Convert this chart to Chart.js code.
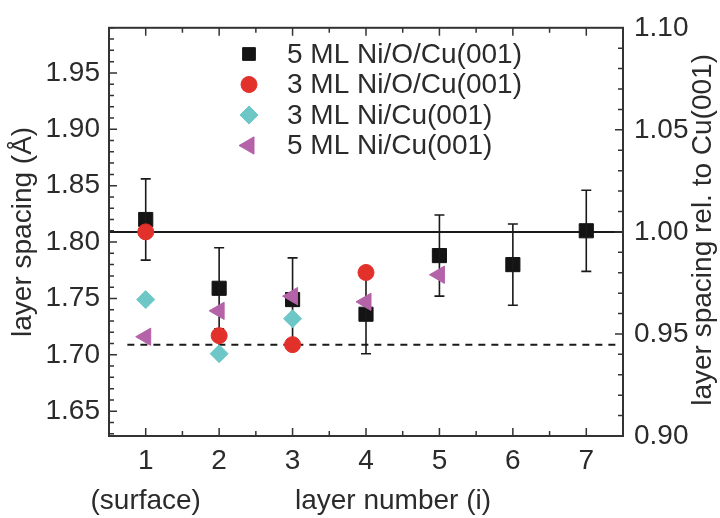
<!DOCTYPE html>
<html>
<head>
<meta charset="utf-8">
<script src="https://cdn.jsdelivr.net/npm/chart.js@4/dist/chart.umd.min.js"></script>
<style>
  body { margin: 0; background: #fff; }
  canvas { display: block; }
</style>
</head>
<body>
<canvas id="chart" width="720" height="518"></canvas>
<script>
// layer number (x)
const layers = [1, 2, 3, 4, 5, 6, 7];

// layer spacing in Angstrom
const ni5OCu = [1.820, 1.759, 1.749, 1.736, 1.788, 1.780, 1.810];
const ni5OCuErr = [0.036, 0.036, 0.037, 0.035, 0.036, 0.036, 0.036];
const ni3OCu = [1.809, 1.717, 1.709, 1.773];
const ni3Cu = [1.749, 1.701, 1.732];
const ni5Cu = [1.716, 1.739, 1.752, 1.747, 1.771];

const seriesNames = ['5 ML Ni/O/Cu(001)', '3 ML Ni/O/Cu(001)', '3 ML Ni/Cu(001)', '5 ML Ni/Cu(001)'];

// reference lines
const cuSpacing = 1.809;
const niSpacing = 1.709;

// tick labels
const xTicks = [1, 2, 3, 4, 5, 6, 7];
const leftTicks = [1.65, 1.70, 1.75, 1.80, 1.85, 1.90, 1.95];
const rightTicks = [0.90, 0.95, 1.00, 1.05, 1.10];

const FONT = '"Liberation Sans", Arial, Helvetica, sans-serif';
const TEXT = '#2b2b2b';
const AXIS = '#333';
const colors = ['#141414', '#e2302b', '#6ec7c7', '#b463a8'];

function pts(ys) {
  return ys.map((y, i) => ({ x: layers[i], y: y }));
}

const decor = {
  id: 'decor',
  afterDatasetDraw(chart, args) {
    if (args.index !== 0) return;
    // error bars on the 5 ML Ni/O/Cu squares
    const ctx = chart.ctx, x = chart.scales.x, y = chart.scales.y;
    ctx.save();
    ctx.strokeStyle = '#1a1a1a';
    ctx.lineWidth = 1.6;
    ni5OCu.forEach((v, i) => {
      const px = x.getPixelForValue(layers[i]);
      const top = y.getPixelForValue(v + ni5OCuErr[i]);
      const bot = y.getPixelForValue(v - ni5OCuErr[i]);
      ctx.beginPath();
      ctx.moveTo(px, top); ctx.lineTo(px, bot);
      ctx.moveTo(px - 5, top); ctx.lineTo(px + 5, top);
      ctx.moveTo(px - 5, bot); ctx.lineTo(px + 5, bot);
      ctx.stroke();
    });
    ctx.restore();
  },
  afterDraw(chart) {
    const ctx = chart.ctx, a = chart.chartArea;
    const x = chart.scales.x, y = chart.scales.y, y2 = chart.scales.y2;
    ctx.save();
    // frame
    ctx.strokeStyle = AXIS;
    ctx.lineWidth = 2;
    ctx.strokeRect(a.left, a.top, a.right - a.left, a.bottom - a.top);

    // inward ticks
    ctx.lineWidth = 1.5;
    ctx.beginPath();
    for (let k = 1; k <= 15; k++) {
      const v = k / 2 + 0.5;
      if (v >= 7.5) break;
      const px = x.getPixelForValue(v);
      const len = Number.isInteger(v) ? 8 : 5;
      ctx.moveTo(px, a.bottom); ctx.lineTo(px, a.bottom - len);
      ctx.moveTo(px, a.top); ctx.lineTo(px, a.top + len);
    }
    for (let k = 163; k <= 199; k++) {
      const py = y.getPixelForValue(k / 100);
      const len = k % 5 === 0 ? 8 : 5;
      ctx.moveTo(a.left, py); ctx.lineTo(a.left + len, py);
    }
    for (let k = 91; k <= 109; k++) {
      const py = y2.getPixelForValue(k / 100);
      const len = k % 5 === 0 ? 8 : 5;
      ctx.moveTo(a.right, py); ctx.lineTo(a.right - len, py);
    }
    ctx.stroke();

    // axis titles
    ctx.fillStyle = TEXT;
    ctx.font = '28px ' + FONT;
    ctx.textAlign = 'center';
    ctx.textBaseline = 'middle';
    ctx.fillText('layer number (i)', 393, 501);
    const midY = (a.top + a.bottom) / 2;
    ctx.save();
    ctx.translate(23, midY);
    ctx.rotate(-Math.PI / 2);
    ctx.fillText('layer spacing (\u00c5)', 0, 0);
    ctx.restore();
    ctx.save();
    ctx.translate(703, midY - 2);
    ctx.rotate(-Math.PI / 2);
    ctx.fillText('layer spacing rel. to Cu(001)', 0, 0);
    ctx.restore();

    // legend
    ctx.textAlign = 'left';
    const styles = ['rect', 'circle', 'rectRot', 'triangle'];
    const radii = [9, 8, 9, 10];
    seriesNames.forEach((name, i) => {
      const ly = 54 + i * 30.5;
      ctx.fillStyle = colors[i];
      ctx.strokeStyle = colors[i];
      ctx.lineWidth = 1;
      Chart.helpers.drawPoint(ctx, { pointStyle: styles[i], radius: radii[i], rotation: i === 3 ? -90 : 0, borderWidth: 1 }, 249, ly);
      ctx.fillStyle = TEXT;
      ctx.fillText(name, 287, ly + 1);
    });
    ctx.restore();
  }
};

const tickFont = { family: FONT, size: 28 };

new Chart(document.getElementById('chart'), {
  type: 'scatter',
  data: {
    datasets: [
      { label: seriesNames[0], data: pts(ni5OCu), pointStyle: 'rect', pointRadius: 10,
        backgroundColor: colors[0], borderColor: colors[0], borderWidth: 1, order: 4 },
      { label: seriesNames[1], data: pts(ni3OCu), pointStyle: 'circle', pointRadius: 8,
        backgroundColor: colors[1], borderColor: colors[1], borderWidth: 1, order: 3 },
      { label: seriesNames[2], data: pts(ni3Cu), pointStyle: 'rectRot', pointRadius: 9,
        backgroundColor: colors[2], borderColor: colors[2], borderWidth: 1, order: 2 },
      { label: seriesNames[3], data: pts(ni5Cu), pointStyle: 'triangle', pointRotation: -90, pointRadius: 10,
        backgroundColor: colors[3], borderColor: colors[3], borderWidth: 1, order: 1 },
      { type: 'line', label: 'Cu(001)', data: [{ x: 0.5, y: cuSpacing }, { x: 7.5, y: cuSpacing }],
        borderColor: '#1a1a1a', borderWidth: 2, pointRadius: 0, order: 6 },
      { type: 'line', label: 'Ni', data: [{ x: 0.75, y: niSpacing }, { x: 7.42, y: niSpacing }],
        borderColor: '#1a1a1a', borderWidth: 2, borderDash: [7, 6], pointRadius: 0, order: 6 }
    ]
  },
  options: {
    responsive: false,
    animation: false,
    layout: { padding: { top: 22, left: 0, right: 0, bottom: 0 } },
    plugins: { legend: { display: false }, tooltip: { enabled: false } },
    scales: {
      x: {
        type: 'linear', min: 0.5, max: 7.5,
        grid: { display: false, drawTicks: false },
        border: { display: false },
        afterBuildTicks: s => { s.ticks = xTicks.map(v => ({ value: v })); },
        afterFit: s => { s.height = 82; },
        ticks: {
          font: { family: FONT, size: 28, lineHeight: 1.4 }, color: TEXT, padding: 6, maxRotation: 0, autoSkip: false,
          callback: v => v === 1 ? ['1', '(surface)'] : String(v)
        }
      },
      y: {
        position: 'left', min: 1.628, max: 1.99,
        grid: { display: false, drawTicks: false },
        border: { display: false },
        afterBuildTicks: s => { s.ticks = leftTicks.map(v => ({ value: v })); },
        afterFit: s => { s.width = 109; },
        ticks: { font: tickFont, color: TEXT, padding: 9, callback: v => v.toFixed(2) }
      },
      y2: {
        position: 'right', min: 0.9, max: 1.1,
        grid: { display: false, drawTicks: false },
        border: { display: false },
        afterBuildTicks: s => { s.ticks = rightTicks.map(v => ({ value: v })); },
        afterFit: s => { s.width = 97; },
        ticks: { font: tickFont, color: TEXT, padding: 11, callback: v => v.toFixed(2) }
      }
    }
  },
  plugins: [decor]
});
</script>
</body>
</html>
